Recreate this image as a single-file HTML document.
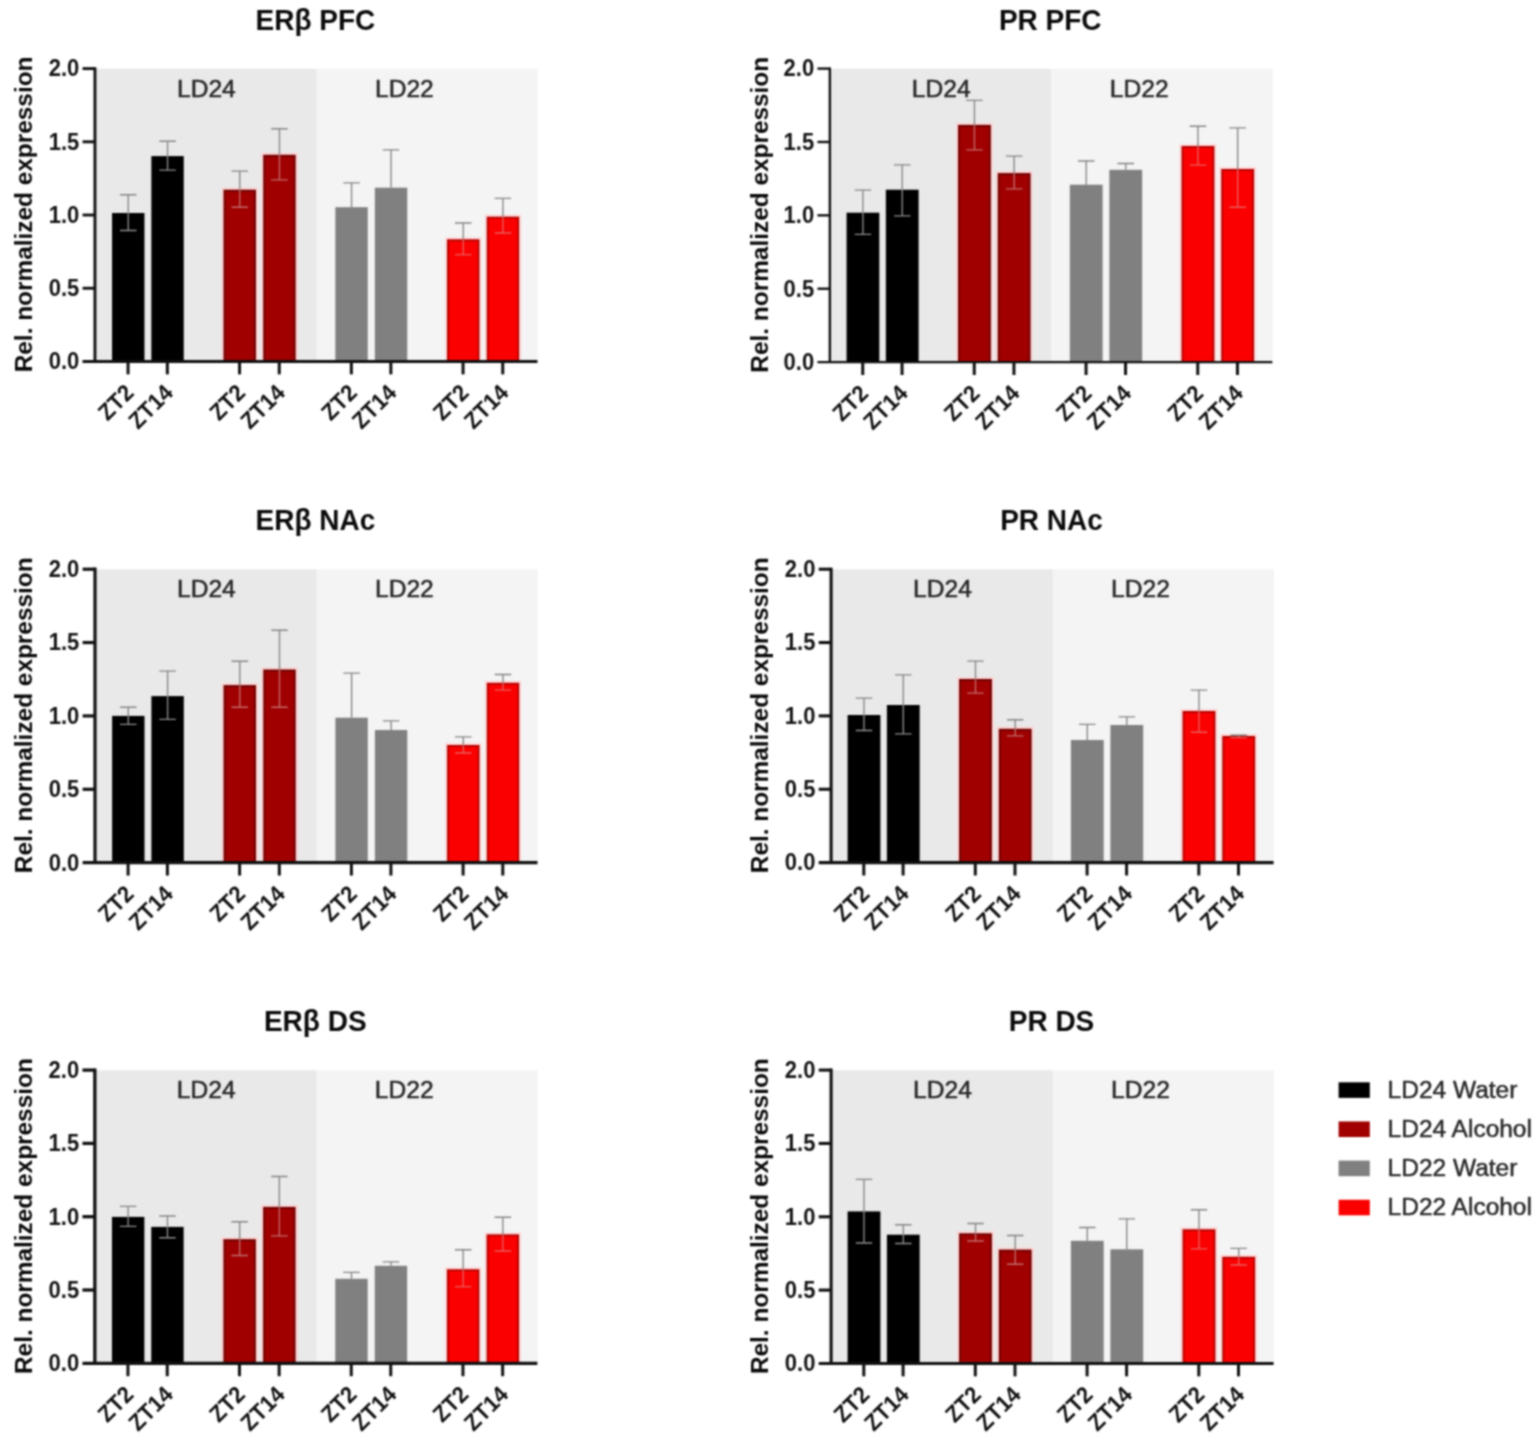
<!DOCTYPE html>
<html lang="en">
<head>
<meta charset="utf-8">
<title>Relative normalized expression of ERβ and PR</title>
<style>
html,body{margin:0;padding:0;background:#fff;}
body{width:1535px;height:1443px;overflow:hidden;}
svg{display:block;}
text{font-family:"Liberation Sans",Arial,Helvetica,sans-serif;}
.ttl{font-weight:bold;font-size:28px;fill:#0a0a0a;text-anchor:middle;}
.yl{font-weight:bold;font-size:24.4px;fill:#0a0a0a;text-anchor:middle;}
.tk{font-weight:bold;font-size:22px;fill:#141414;text-anchor:end;}
.xt{font-weight:bold;font-size:22px;fill:#101010;text-anchor:end;}
.ld{font-size:24.6px;fill:#262626;text-anchor:middle;stroke:#262626;stroke-width:0.5px;}
.lg{font-size:24.5px;fill:#2a2a2a;stroke:#2a2a2a;stroke-width:0.5px;}
.ax{stroke:#111111;fill:none;}
.er{stroke-width:1.35;fill:none;}
</style>
</head>
<body>
<svg width="1535" height="1443" viewBox="0 0 1535 1443" role="img" aria-label="Relative normalized expression of ERβ and PR in PFC, NAc and DS">
<defs><filter id="soft" x="0" y="0" width="100%" height="100%" color-interpolation-filters="sRGB"><feConvolveMatrix order="5" kernelMatrix="1 8 14 8 1 8 64 112 64 8 14 112 196 112 14 8 64 112 64 8 1 8 14 8 1" divisor="1024" edgeMode="duplicate" preserveAlpha="false"/></filter></defs>
<g filter="url(#soft)">
<rect x="-5" y="-5" width="1545" height="1453" fill="#ffffff"/>
<g>
<rect x="94.95" y="68.7" width="221.8" height="292.75" fill="#e9e9e9"/>
<rect x="316.75" y="68.7" width="221.1" height="292.75" fill="#f4f4f4"/>
<text class="ttl" transform="translate(315.35 29.7) scale(1 1.055)" x="0" y="0">ERβ PFC</text>
<text class="ld" transform="translate(206.35 96.5) scale(1 0.975)" x="0" y="0">LD24</text>
<text class="ld" transform="translate(404.35 96.5) scale(1 0.975)" x="0" y="0">LD22</text>
<rect x="112.05" y="213" width="32.4" height="148.45" fill="#000000"/>
<rect x="151.35" y="156.1" width="32.4" height="205.35" fill="#000000"/>
<rect x="221.55" y="187.7" width="36.4" height="173.75" fill="#ffd2d2"/>
<rect x="223.55" y="189.7" width="32.4" height="171.75" fill="#6c0000"/>
<rect x="225.45" y="191.6" width="28.6" height="169.85" fill="#a00000"/>
<rect x="261.25" y="152.8" width="36.4" height="208.65" fill="#ffd2d2"/>
<rect x="263.25" y="154.8" width="32.4" height="206.65" fill="#6c0000"/>
<rect x="265.15" y="156.7" width="28.6" height="204.75" fill="#a00000"/>
<rect x="335.35" y="207.2" width="32.4" height="154.25" fill="#808080"/>
<rect x="374.85" y="187.7" width="32.4" height="173.75" fill="#808080"/>
<rect x="445.05" y="237.3" width="36.4" height="124.15" fill="#ffd6d6"/>
<rect x="447.05" y="239.3" width="32.4" height="122.15" fill="#b40000"/>
<rect x="448.95" y="241.2" width="28.6" height="120.25" fill="#fb0000"/>
<rect x="484.75" y="214.7" width="36.4" height="146.75" fill="#ffd6d6"/>
<rect x="486.75" y="216.7" width="32.4" height="144.75" fill="#b40000"/>
<rect x="488.65" y="218.6" width="28.6" height="142.85" fill="#fb0000"/>
<path class="er" stroke="#858585" d="M128.25 194.7V213M120 194.7H136.5"/>
<path class="er" stroke="#8c8c8c" d="M128.25 213V230.5M120 230.5H136.5"/>
<path class="er" stroke="#858585" d="M167.55 141.2V156.1M159.3 141.2H175.8"/>
<path class="er" stroke="#8c8c8c" d="M167.55 156.1V170.1M159.3 170.1H175.8"/>
<path class="er" stroke="#858585" d="M239.75 171.1V189.7M231.5 171.1H248"/>
<path class="er" stroke="#c36b6b" d="M239.75 189.7V207.2M231.5 207.2H248"/>
<path class="er" stroke="#858585" d="M279.45 128.7V154.8M271.2 128.7H287.7"/>
<path class="er" stroke="#c36b6b" d="M279.45 154.8V179.8M271.2 179.8H287.7"/>
<path class="er" stroke="#858585" d="M351.55 182.8V207.2M343.3 182.8H359.8"/>
<path class="er" stroke="#858585" d="M391.05 149.8V187.7M382.8 149.8H399.3"/>
<path class="er" stroke="#858585" d="M463.25 223V239.3M455 223H471.5"/>
<path class="er" stroke="#ea5c5c" d="M463.25 239.3V254.6M455 254.6H471.5"/>
<path class="er" stroke="#858585" d="M502.95 198.4V216.7M494.7 198.4H511.2"/>
<path class="er" stroke="#ea5c5c" d="M502.95 216.7V233M494.7 233H511.2"/>
<path class="ax" stroke-width="2.9" d="M94.95 67.15V361.45M82.55 361.45H537.45"/>
<text class="tk" transform="translate(79.25 361.45) scale(1 1.05)" x="0" y="7.5">0.0</text>
<path class="ax" stroke-width="2.9" d="M82.55 288.24H94.95"/>
<text class="tk" transform="translate(79.25 288.24) scale(1 1.05)" x="0" y="7.5">0.5</text>
<path class="ax" stroke-width="2.9" d="M82.55 215.02H94.95"/>
<text class="tk" transform="translate(79.25 215.02) scale(1 1.05)" x="0" y="7.5">1.0</text>
<path class="ax" stroke-width="2.9" d="M82.55 141.81H94.95"/>
<text class="tk" transform="translate(79.25 141.81) scale(1 1.05)" x="0" y="7.5">1.5</text>
<path class="ax" stroke-width="2.9" d="M82.55 68.6H94.95"/>
<text class="tk" transform="translate(79.25 68.6) scale(1 1.05)" x="0" y="7.5">2.0</text>
<path class="ax" stroke-width="3" d="M128.05 361.45V374.35"/>
<text class="xt" transform="translate(129.35 388.35) rotate(-45) scale(1 1.05)" x="0" y="7.7">ZT2</text>
<path class="ax" stroke-width="3" d="M167.35 361.45V374.35"/>
<text class="xt" transform="translate(168.65 388.35) rotate(-45) scale(1 1.05)" x="0" y="7.7">ZT14</text>
<path class="ax" stroke-width="3" d="M239.55 361.45V374.35"/>
<text class="xt" transform="translate(240.85 388.35) rotate(-45) scale(1 1.05)" x="0" y="7.7">ZT2</text>
<path class="ax" stroke-width="3" d="M279.25 361.45V374.35"/>
<text class="xt" transform="translate(280.55 388.35) rotate(-45) scale(1 1.05)" x="0" y="7.7">ZT14</text>
<path class="ax" stroke-width="3" d="M351.35 361.45V374.35"/>
<text class="xt" transform="translate(352.65 388.35) rotate(-45) scale(1 1.05)" x="0" y="7.7">ZT2</text>
<path class="ax" stroke-width="3" d="M390.85 361.45V374.35"/>
<text class="xt" transform="translate(392.15 388.35) rotate(-45) scale(1 1.05)" x="0" y="7.7">ZT14</text>
<path class="ax" stroke-width="3" d="M463.05 361.45V374.35"/>
<text class="xt" transform="translate(464.35 388.35) rotate(-45) scale(1 1.05)" x="0" y="7.7">ZT2</text>
<path class="ax" stroke-width="3" d="M502.75 361.45V374.35"/>
<text class="xt" transform="translate(504.05 388.35) rotate(-45) scale(1 1.05)" x="0" y="7.7">ZT14</text>
<text class="yl" transform="translate(31.55 214.42) rotate(-90)" x="0" y="0">Rel. normalized expression</text>
</g>
<g>
<rect x="829.85" y="68.7" width="221.8" height="293.4" fill="#e9e9e9"/>
<rect x="1051.65" y="68.7" width="221.1" height="293.4" fill="#f4f4f4"/>
<text class="ttl" transform="translate(1050.25 29.7) scale(1 1.055)" x="0" y="0">PR PFC</text>
<text class="ld" transform="translate(941.25 96.5) scale(1 0.975)" x="0" y="0">LD24</text>
<text class="ld" transform="translate(1139.25 96.5) scale(1 0.975)" x="0" y="0">LD22</text>
<rect x="846.55" y="212.7" width="32.8" height="149.4" fill="#000000"/>
<rect x="885.85" y="189.7" width="32.8" height="172.4" fill="#000000"/>
<rect x="956.05" y="122.9" width="36.8" height="239.2" fill="#ffd2d2"/>
<rect x="958.05" y="124.9" width="32.8" height="237.2" fill="#6c0000"/>
<rect x="959.95" y="126.8" width="29" height="235.3" fill="#a00000"/>
<rect x="995.75" y="171.1" width="36.8" height="191" fill="#ffd2d2"/>
<rect x="997.75" y="173.1" width="32.8" height="189" fill="#6c0000"/>
<rect x="999.65" y="175" width="29" height="187.1" fill="#a00000"/>
<rect x="1069.85" y="184.7" width="32.8" height="177.4" fill="#808080"/>
<rect x="1109.35" y="169.8" width="32.8" height="192.3" fill="#808080"/>
<rect x="1179.55" y="144" width="36.8" height="218.1" fill="#ffd6d6"/>
<rect x="1181.55" y="146" width="32.8" height="216.1" fill="#b40000"/>
<rect x="1183.45" y="147.9" width="29" height="214.2" fill="#fb0000"/>
<rect x="1219.25" y="167" width="36.8" height="195.1" fill="#ffd6d6"/>
<rect x="1221.25" y="169" width="32.8" height="193.1" fill="#b40000"/>
<rect x="1223.15" y="170.9" width="29" height="191.2" fill="#fb0000"/>
<path class="er" stroke="#858585" d="M862.95 190.1V212.7M854.7 190.1H871.2"/>
<path class="er" stroke="#8c8c8c" d="M862.95 212.7V234.3M854.7 234.3H871.2"/>
<path class="er" stroke="#858585" d="M902.25 164.8V189.7M894 164.8H910.5"/>
<path class="er" stroke="#8c8c8c" d="M902.25 189.7V215.8M894 215.8H910.5"/>
<path class="er" stroke="#858585" d="M974.45 100.4V124.9M966.2 100.4H982.7"/>
<path class="er" stroke="#c36b6b" d="M974.45 124.9V149.8M966.2 149.8H982.7"/>
<path class="er" stroke="#858585" d="M1014.15 156.1V173.1M1005.9 156.1H1022.4"/>
<path class="er" stroke="#c36b6b" d="M1014.15 173.1V188.9M1005.9 188.9H1022.4"/>
<path class="er" stroke="#858585" d="M1086.25 161V184.7M1078 161H1094.5"/>
<path class="er" stroke="#858585" d="M1125.75 163.5V169.8M1117.5 163.5H1134"/>
<path class="er" stroke="#858585" d="M1197.95 126.2V146M1189.7 126.2H1206.2"/>
<path class="er" stroke="#ea5c5c" d="M1197.95 146V165.1M1189.7 165.1H1206.2"/>
<path class="er" stroke="#858585" d="M1237.65 127.9V169M1229.4 127.9H1245.9"/>
<path class="er" stroke="#ea5c5c" d="M1237.65 169V207.2M1229.4 207.2H1245.9"/>
<path class="ax" stroke-width="2.4" d="M829.85 67.4V362.1M817.45 362.1H1272.35"/>
<text class="tk" transform="translate(814.15 362.1) scale(1 1.05)" x="0" y="7.5">0.0</text>
<path class="ax" stroke-width="2.4" d="M817.45 288.73H829.85"/>
<text class="tk" transform="translate(814.15 288.73) scale(1 1.05)" x="0" y="7.5">0.5</text>
<path class="ax" stroke-width="2.4" d="M817.45 215.35H829.85"/>
<text class="tk" transform="translate(814.15 215.35) scale(1 1.05)" x="0" y="7.5">1.0</text>
<path class="ax" stroke-width="2.4" d="M817.45 141.98H829.85"/>
<text class="tk" transform="translate(814.15 141.98) scale(1 1.05)" x="0" y="7.5">1.5</text>
<path class="ax" stroke-width="2.4" d="M817.45 68.6H829.85"/>
<text class="tk" transform="translate(814.15 68.6) scale(1 1.05)" x="0" y="7.5">2.0</text>
<path class="ax" stroke-width="3" d="M862.75 362.1V375"/>
<text class="xt" transform="translate(864.05 389) rotate(-45) scale(1 1.05)" x="0" y="7.7">ZT2</text>
<path class="ax" stroke-width="3" d="M902.05 362.1V375"/>
<text class="xt" transform="translate(903.35 389) rotate(-45) scale(1 1.05)" x="0" y="7.7">ZT14</text>
<path class="ax" stroke-width="3" d="M974.25 362.1V375"/>
<text class="xt" transform="translate(975.55 389) rotate(-45) scale(1 1.05)" x="0" y="7.7">ZT2</text>
<path class="ax" stroke-width="3" d="M1013.95 362.1V375"/>
<text class="xt" transform="translate(1015.25 389) rotate(-45) scale(1 1.05)" x="0" y="7.7">ZT14</text>
<path class="ax" stroke-width="3" d="M1086.05 362.1V375"/>
<text class="xt" transform="translate(1087.35 389) rotate(-45) scale(1 1.05)" x="0" y="7.7">ZT2</text>
<path class="ax" stroke-width="3" d="M1125.55 362.1V375"/>
<text class="xt" transform="translate(1126.85 389) rotate(-45) scale(1 1.05)" x="0" y="7.7">ZT14</text>
<path class="ax" stroke-width="3" d="M1197.75 362.1V375"/>
<text class="xt" transform="translate(1199.05 389) rotate(-45) scale(1 1.05)" x="0" y="7.7">ZT2</text>
<path class="ax" stroke-width="3" d="M1237.45 362.1V375"/>
<text class="xt" transform="translate(1238.75 389) rotate(-45) scale(1 1.05)" x="0" y="7.7">ZT14</text>
<text class="yl" transform="translate(767.75 214.75) rotate(-90)" x="0" y="0">Rel. normalized expression</text>
</g>
<g>
<rect x="95" y="569.3" width="221.8" height="293.35" fill="#e9e9e9"/>
<rect x="316.8" y="569.3" width="221.1" height="293.35" fill="#f4f4f4"/>
<text class="ttl" transform="translate(315.4 530.3) scale(1 1.055)" x="0" y="0">ERβ NAc</text>
<text class="ld" transform="translate(206.4 597.1) scale(1 0.975)" x="0" y="0">LD24</text>
<text class="ld" transform="translate(404.4 597.1) scale(1 0.975)" x="0" y="0">LD22</text>
<rect x="112.1" y="715.9" width="32.4" height="146.75" fill="#000000"/>
<rect x="151.4" y="696.1" width="32.4" height="166.55" fill="#000000"/>
<rect x="221.6" y="683.1" width="36.4" height="179.55" fill="#ffd2d2"/>
<rect x="223.6" y="685.1" width="32.4" height="177.55" fill="#6c0000"/>
<rect x="225.5" y="687" width="28.6" height="175.65" fill="#a00000"/>
<rect x="261.3" y="667.5" width="36.4" height="195.15" fill="#ffd2d2"/>
<rect x="263.3" y="669.5" width="32.4" height="193.15" fill="#6c0000"/>
<rect x="265.2" y="671.4" width="28.6" height="191.25" fill="#a00000"/>
<rect x="335.4" y="717.7" width="32.4" height="144.95" fill="#808080"/>
<rect x="374.9" y="730" width="32.4" height="132.65" fill="#808080"/>
<rect x="445.1" y="743" width="36.4" height="119.65" fill="#ffd6d6"/>
<rect x="447.1" y="745" width="32.4" height="117.65" fill="#b40000"/>
<rect x="449" y="746.9" width="28.6" height="115.75" fill="#fb0000"/>
<rect x="484.8" y="680.8" width="36.4" height="181.85" fill="#ffd6d6"/>
<rect x="486.8" y="682.8" width="32.4" height="179.85" fill="#b40000"/>
<rect x="488.7" y="684.7" width="28.6" height="177.95" fill="#fb0000"/>
<path class="er" stroke="#858585" d="M128.3 707.2V715.9M120.05 707.2H136.55"/>
<path class="er" stroke="#8c8c8c" d="M128.3 715.9V724.4M120.05 724.4H136.55"/>
<path class="er" stroke="#858585" d="M167.6 671.1V696.1M159.35 671.1H175.85"/>
<path class="er" stroke="#8c8c8c" d="M167.6 696.1V719.4M159.35 719.4H175.85"/>
<path class="er" stroke="#858585" d="M239.8 661.2V685.1M231.55 661.2H248.05"/>
<path class="er" stroke="#c36b6b" d="M239.8 685.1V707.2M231.55 707.2H248.05"/>
<path class="er" stroke="#858585" d="M279.5 630.2V669.5M271.25 630.2H287.75"/>
<path class="er" stroke="#c36b6b" d="M279.5 669.5V707.2M271.25 707.2H287.75"/>
<path class="er" stroke="#858585" d="M351.6 673.1V717.7M343.35 673.1H359.85"/>
<path class="er" stroke="#858585" d="M391.1 720.9V730M382.85 720.9H399.35"/>
<path class="er" stroke="#858585" d="M463.3 736.9V745M455.05 736.9H471.55"/>
<path class="er" stroke="#ea5c5c" d="M463.3 745V753M455.05 753H471.55"/>
<path class="er" stroke="#858585" d="M503 674.5V682.8M494.75 674.5H511.25"/>
<path class="er" stroke="#ea5c5c" d="M503 682.8V690.1M494.75 690.1H511.25"/>
<path class="ax" stroke-width="3.2" d="M95 567.6V862.65M82.6 862.65H537.5"/>
<text class="tk" transform="translate(79.3 862.65) scale(1 1.05)" x="0" y="7.5">0.0</text>
<path class="ax" stroke-width="3.2" d="M82.6 789.29H95"/>
<text class="tk" transform="translate(79.3 789.29) scale(1 1.05)" x="0" y="7.5">0.5</text>
<path class="ax" stroke-width="3.2" d="M82.6 715.92H95"/>
<text class="tk" transform="translate(79.3 715.92) scale(1 1.05)" x="0" y="7.5">1.0</text>
<path class="ax" stroke-width="3.2" d="M82.6 642.56H95"/>
<text class="tk" transform="translate(79.3 642.56) scale(1 1.05)" x="0" y="7.5">1.5</text>
<path class="ax" stroke-width="3.2" d="M82.6 569.2H95"/>
<text class="tk" transform="translate(79.3 569.2) scale(1 1.05)" x="0" y="7.5">2.0</text>
<path class="ax" stroke-width="3" d="M128.1 862.65V875.55"/>
<text class="xt" transform="translate(129.4 889.55) rotate(-45) scale(1 1.05)" x="0" y="7.7">ZT2</text>
<path class="ax" stroke-width="3" d="M167.4 862.65V875.55"/>
<text class="xt" transform="translate(168.7 889.55) rotate(-45) scale(1 1.05)" x="0" y="7.7">ZT14</text>
<path class="ax" stroke-width="3" d="M239.6 862.65V875.55"/>
<text class="xt" transform="translate(240.9 889.55) rotate(-45) scale(1 1.05)" x="0" y="7.7">ZT2</text>
<path class="ax" stroke-width="3" d="M279.3 862.65V875.55"/>
<text class="xt" transform="translate(280.6 889.55) rotate(-45) scale(1 1.05)" x="0" y="7.7">ZT14</text>
<path class="ax" stroke-width="3" d="M351.4 862.65V875.55"/>
<text class="xt" transform="translate(352.7 889.55) rotate(-45) scale(1 1.05)" x="0" y="7.7">ZT2</text>
<path class="ax" stroke-width="3" d="M390.9 862.65V875.55"/>
<text class="xt" transform="translate(392.2 889.55) rotate(-45) scale(1 1.05)" x="0" y="7.7">ZT14</text>
<path class="ax" stroke-width="3" d="M463.1 862.65V875.55"/>
<text class="xt" transform="translate(464.4 889.55) rotate(-45) scale(1 1.05)" x="0" y="7.7">ZT2</text>
<path class="ax" stroke-width="3" d="M502.8 862.65V875.55"/>
<text class="xt" transform="translate(504.1 889.55) rotate(-45) scale(1 1.05)" x="0" y="7.7">ZT14</text>
<text class="yl" transform="translate(31.55 715.32) rotate(-90)" x="0" y="0">Rel. normalized expression</text>
</g>
<g>
<rect x="831.1" y="569.3" width="221.8" height="293.3" fill="#e9e9e9"/>
<rect x="1052.9" y="569.3" width="221.1" height="293.3" fill="#f4f4f4"/>
<text class="ttl" transform="translate(1051.5 530.3) scale(1 1.055)" x="0" y="0">PR NAc</text>
<text class="ld" transform="translate(942.5 597.1) scale(1 0.975)" x="0" y="0">LD24</text>
<text class="ld" transform="translate(1140.5 597.1) scale(1 0.975)" x="0" y="0">LD22</text>
<rect x="847.6" y="715" width="32.8" height="147.6" fill="#000000"/>
<rect x="886.9" y="705" width="32.8" height="157.6" fill="#000000"/>
<rect x="957.1" y="677" width="36.8" height="185.6" fill="#ffd2d2"/>
<rect x="959.1" y="679" width="32.8" height="183.6" fill="#6c0000"/>
<rect x="961" y="680.9" width="29" height="181.7" fill="#a00000"/>
<rect x="996.8" y="726.8" width="36.8" height="135.8" fill="#ffd2d2"/>
<rect x="998.8" y="728.8" width="32.8" height="133.8" fill="#6c0000"/>
<rect x="1000.7" y="730.7" width="29" height="131.9" fill="#a00000"/>
<rect x="1070.9" y="740" width="32.8" height="122.6" fill="#808080"/>
<rect x="1110.4" y="725" width="32.8" height="137.6" fill="#808080"/>
<rect x="1180.6" y="709" width="36.8" height="153.6" fill="#ffd6d6"/>
<rect x="1182.6" y="711" width="32.8" height="151.6" fill="#b40000"/>
<rect x="1184.5" y="712.9" width="29" height="149.7" fill="#fb0000"/>
<rect x="1220.3" y="734" width="36.8" height="128.6" fill="#ffd6d6"/>
<rect x="1222.3" y="736" width="32.8" height="126.6" fill="#b40000"/>
<rect x="1224.2" y="737.9" width="29" height="124.7" fill="#fb0000"/>
<path class="er" stroke="#858585" d="M864 698.1V715M855.75 698.1H872.25"/>
<path class="er" stroke="#8c8c8c" d="M864 715V730.5M855.75 730.5H872.25"/>
<path class="er" stroke="#858585" d="M903.3 674.8V705M895.05 674.8H911.55"/>
<path class="er" stroke="#8c8c8c" d="M903.3 705V733.8M895.05 733.8H911.55"/>
<path class="er" stroke="#858585" d="M975.5 661.1V679M967.25 661.1H983.75"/>
<path class="er" stroke="#c36b6b" d="M975.5 679V693.1M967.25 693.1H983.75"/>
<path class="er" stroke="#858585" d="M1015.2 719.7V728.8M1006.95 719.7H1023.45"/>
<path class="er" stroke="#c36b6b" d="M1015.2 728.8V735.8M1006.95 735.8H1023.45"/>
<path class="er" stroke="#858585" d="M1087.3 724.3V740M1079.05 724.3H1095.55"/>
<path class="er" stroke="#858585" d="M1126.8 716.9V725M1118.55 716.9H1135.05"/>
<path class="er" stroke="#858585" d="M1199 690.1V711M1190.75 690.1H1207.25"/>
<path class="er" stroke="#ea5c5c" d="M1199 711V732.2M1190.75 732.2H1207.25"/>
<path class="er" stroke="#858585" d="M1238.7 735.2V736M1230.45 735.2H1246.95"/>
<path class="er" stroke="#ea5c5c" d="M1238.7 736V737.6M1230.45 737.6H1246.95"/>
<path class="ax" stroke-width="3.1" d="M831.1 567.65V862.6M818.7 862.6H1273.6"/>
<text class="tk" transform="translate(815.4 862.6) scale(1 1.05)" x="0" y="7.5">0.0</text>
<path class="ax" stroke-width="3.1" d="M818.7 789.25H831.1"/>
<text class="tk" transform="translate(815.4 789.25) scale(1 1.05)" x="0" y="7.5">0.5</text>
<path class="ax" stroke-width="3.1" d="M818.7 715.9H831.1"/>
<text class="tk" transform="translate(815.4 715.9) scale(1 1.05)" x="0" y="7.5">1.0</text>
<path class="ax" stroke-width="3.1" d="M818.7 642.55H831.1"/>
<text class="tk" transform="translate(815.4 642.55) scale(1 1.05)" x="0" y="7.5">1.5</text>
<path class="ax" stroke-width="3.1" d="M818.7 569.2H831.1"/>
<text class="tk" transform="translate(815.4 569.2) scale(1 1.05)" x="0" y="7.5">2.0</text>
<path class="ax" stroke-width="3" d="M863.8 862.6V875.5"/>
<text class="xt" transform="translate(865.1 889.5) rotate(-45) scale(1 1.05)" x="0" y="7.7">ZT2</text>
<path class="ax" stroke-width="3" d="M903.1 862.6V875.5"/>
<text class="xt" transform="translate(904.4 889.5) rotate(-45) scale(1 1.05)" x="0" y="7.7">ZT14</text>
<path class="ax" stroke-width="3" d="M975.3 862.6V875.5"/>
<text class="xt" transform="translate(976.6 889.5) rotate(-45) scale(1 1.05)" x="0" y="7.7">ZT2</text>
<path class="ax" stroke-width="3" d="M1015 862.6V875.5"/>
<text class="xt" transform="translate(1016.3 889.5) rotate(-45) scale(1 1.05)" x="0" y="7.7">ZT14</text>
<path class="ax" stroke-width="3" d="M1087.1 862.6V875.5"/>
<text class="xt" transform="translate(1088.4 889.5) rotate(-45) scale(1 1.05)" x="0" y="7.7">ZT2</text>
<path class="ax" stroke-width="3" d="M1126.6 862.6V875.5"/>
<text class="xt" transform="translate(1127.9 889.5) rotate(-45) scale(1 1.05)" x="0" y="7.7">ZT14</text>
<path class="ax" stroke-width="3" d="M1198.8 862.6V875.5"/>
<text class="xt" transform="translate(1200.1 889.5) rotate(-45) scale(1 1.05)" x="0" y="7.7">ZT2</text>
<path class="ax" stroke-width="3" d="M1238.5 862.6V875.5"/>
<text class="xt" transform="translate(1239.8 889.5) rotate(-45) scale(1 1.05)" x="0" y="7.7">ZT14</text>
<text class="yl" transform="translate(767.75 715.3) rotate(-90)" x="0" y="0">Rel. normalized expression</text>
</g>
<g>
<rect x="94.85" y="1070.2" width="221.8" height="293.1" fill="#e9e9e9"/>
<rect x="316.65" y="1070.2" width="221.1" height="293.1" fill="#f4f4f4"/>
<text class="ttl" transform="translate(315.25 1031.2) scale(1 1.055)" x="0" y="0">ERβ DS</text>
<text class="ld" transform="translate(206.25 1098) scale(1 0.975)" x="0" y="0">LD24</text>
<text class="ld" transform="translate(404.25 1098) scale(1 0.975)" x="0" y="0">LD22</text>
<rect x="111.95" y="1216.9" width="32.4" height="146.4" fill="#000000"/>
<rect x="151.25" y="1226.9" width="32.4" height="136.4" fill="#000000"/>
<rect x="221.45" y="1237.2" width="36.4" height="126.1" fill="#ffd2d2"/>
<rect x="223.45" y="1239.2" width="32.4" height="124.1" fill="#6c0000"/>
<rect x="225.35" y="1241.1" width="28.6" height="122.2" fill="#a00000"/>
<rect x="261.15" y="1204.9" width="36.4" height="158.4" fill="#ffd2d2"/>
<rect x="263.15" y="1206.9" width="32.4" height="156.4" fill="#6c0000"/>
<rect x="265.05" y="1208.8" width="28.6" height="154.5" fill="#a00000"/>
<rect x="335.25" y="1278.8" width="32.4" height="84.5" fill="#808080"/>
<rect x="374.75" y="1265.8" width="32.4" height="97.5" fill="#808080"/>
<rect x="444.95" y="1267.3" width="36.4" height="96" fill="#ffd6d6"/>
<rect x="446.95" y="1269.3" width="32.4" height="94" fill="#b40000"/>
<rect x="448.85" y="1271.2" width="28.6" height="92.1" fill="#fb0000"/>
<rect x="484.65" y="1232.4" width="36.4" height="130.9" fill="#ffd6d6"/>
<rect x="486.65" y="1234.4" width="32.4" height="128.9" fill="#b40000"/>
<rect x="488.55" y="1236.3" width="28.6" height="127" fill="#fb0000"/>
<path class="er" stroke="#858585" d="M128.15 1206.4V1216.9M119.9 1206.4H136.4"/>
<path class="er" stroke="#8c8c8c" d="M128.15 1216.9V1226.4M119.9 1226.4H136.4"/>
<path class="er" stroke="#858585" d="M167.45 1216V1226.9M159.2 1216H175.7"/>
<path class="er" stroke="#8c8c8c" d="M167.45 1226.9V1237.7M159.2 1237.7H175.7"/>
<path class="er" stroke="#858585" d="M239.65 1221.7V1239.2M231.4 1221.7H247.9"/>
<path class="er" stroke="#c36b6b" d="M239.65 1239.2V1255.5M231.4 1255.5H247.9"/>
<path class="er" stroke="#858585" d="M279.35 1176.5V1206.9M271.1 1176.5H287.6"/>
<path class="er" stroke="#c36b6b" d="M279.35 1206.9V1235.9M271.1 1235.9H287.6"/>
<path class="er" stroke="#858585" d="M351.45 1272.4V1278.8M343.2 1272.4H359.7"/>
<path class="er" stroke="#858585" d="M390.95 1261.8V1265.8M382.7 1261.8H399.2"/>
<path class="er" stroke="#858585" d="M463.15 1249.7V1269.3M454.9 1249.7H471.4"/>
<path class="er" stroke="#ea5c5c" d="M463.15 1269.3V1286.6M454.9 1286.6H471.4"/>
<path class="er" stroke="#858585" d="M502.85 1217.2V1234.4M494.6 1217.2H511.1"/>
<path class="er" stroke="#ea5c5c" d="M502.85 1234.4V1251M494.6 1251H511.1"/>
<path class="ax" stroke-width="3.3" d="M94.85 1068.45V1363.3M82.45 1363.3H537.35"/>
<text class="tk" transform="translate(79.15 1363.3) scale(1 1.05)" x="0" y="7.5">0.0</text>
<path class="ax" stroke-width="3.3" d="M82.45 1290H94.85"/>
<text class="tk" transform="translate(79.15 1290) scale(1 1.05)" x="0" y="7.5">0.5</text>
<path class="ax" stroke-width="3.3" d="M82.45 1216.7H94.85"/>
<text class="tk" transform="translate(79.15 1216.7) scale(1 1.05)" x="0" y="7.5">1.0</text>
<path class="ax" stroke-width="3.3" d="M82.45 1143.4H94.85"/>
<text class="tk" transform="translate(79.15 1143.4) scale(1 1.05)" x="0" y="7.5">1.5</text>
<path class="ax" stroke-width="3.3" d="M82.45 1070.1H94.85"/>
<text class="tk" transform="translate(79.15 1070.1) scale(1 1.05)" x="0" y="7.5">2.0</text>
<path class="ax" stroke-width="3" d="M127.95 1363.3V1376.2"/>
<text class="xt" transform="translate(129.25 1390.2) rotate(-45) scale(1 1.05)" x="0" y="7.7">ZT2</text>
<path class="ax" stroke-width="3" d="M167.25 1363.3V1376.2"/>
<text class="xt" transform="translate(168.55 1390.2) rotate(-45) scale(1 1.05)" x="0" y="7.7">ZT14</text>
<path class="ax" stroke-width="3" d="M239.45 1363.3V1376.2"/>
<text class="xt" transform="translate(240.75 1390.2) rotate(-45) scale(1 1.05)" x="0" y="7.7">ZT2</text>
<path class="ax" stroke-width="3" d="M279.15 1363.3V1376.2"/>
<text class="xt" transform="translate(280.45 1390.2) rotate(-45) scale(1 1.05)" x="0" y="7.7">ZT14</text>
<path class="ax" stroke-width="3" d="M351.25 1363.3V1376.2"/>
<text class="xt" transform="translate(352.55 1390.2) rotate(-45) scale(1 1.05)" x="0" y="7.7">ZT2</text>
<path class="ax" stroke-width="3" d="M390.75 1363.3V1376.2"/>
<text class="xt" transform="translate(392.05 1390.2) rotate(-45) scale(1 1.05)" x="0" y="7.7">ZT14</text>
<path class="ax" stroke-width="3" d="M462.95 1363.3V1376.2"/>
<text class="xt" transform="translate(464.25 1390.2) rotate(-45) scale(1 1.05)" x="0" y="7.7">ZT2</text>
<path class="ax" stroke-width="3" d="M502.65 1363.3V1376.2"/>
<text class="xt" transform="translate(503.95 1390.2) rotate(-45) scale(1 1.05)" x="0" y="7.7">ZT14</text>
<text class="yl" transform="translate(31.55 1216.1) rotate(-90)" x="0" y="0">Rel. normalized expression</text>
</g>
<g>
<rect x="831.1" y="1070.2" width="221.8" height="293.25" fill="#e9e9e9"/>
<rect x="1052.9" y="1070.2" width="221.1" height="293.25" fill="#f4f4f4"/>
<text class="ttl" transform="translate(1051.5 1031.2) scale(1 1.055)" x="0" y="0">PR DS</text>
<text class="ld" transform="translate(942.5 1098) scale(1 0.975)" x="0" y="0">LD24</text>
<text class="ld" transform="translate(1140.5 1098) scale(1 0.975)" x="0" y="0">LD22</text>
<rect x="847.6" y="1211.4" width="32.8" height="152.05" fill="#000000"/>
<rect x="886.9" y="1234.7" width="32.8" height="128.75" fill="#000000"/>
<rect x="957.1" y="1231.3" width="36.8" height="132.15" fill="#ffd2d2"/>
<rect x="959.1" y="1233.3" width="32.8" height="130.15" fill="#6c0000"/>
<rect x="961" y="1235.2" width="29" height="128.25" fill="#a00000"/>
<rect x="996.8" y="1247.6" width="36.8" height="115.85" fill="#ffd2d2"/>
<rect x="998.8" y="1249.6" width="32.8" height="113.85" fill="#6c0000"/>
<rect x="1000.7" y="1251.5" width="29" height="111.95" fill="#a00000"/>
<rect x="1070.9" y="1240.8" width="32.8" height="122.65" fill="#808080"/>
<rect x="1110.4" y="1249.3" width="32.8" height="114.15" fill="#808080"/>
<rect x="1180.6" y="1227.3" width="36.8" height="136.15" fill="#ffd6d6"/>
<rect x="1182.6" y="1229.3" width="32.8" height="134.15" fill="#b40000"/>
<rect x="1184.5" y="1231.2" width="29" height="132.25" fill="#fb0000"/>
<rect x="1220.3" y="1254.8" width="36.8" height="108.65" fill="#ffd6d6"/>
<rect x="1222.3" y="1256.8" width="32.8" height="106.65" fill="#b40000"/>
<rect x="1224.2" y="1258.7" width="29" height="104.75" fill="#fb0000"/>
<path class="er" stroke="#858585" d="M864 1179.4V1211.4M855.75 1179.4H872.25"/>
<path class="er" stroke="#8c8c8c" d="M864 1211.4V1243M855.75 1243H872.25"/>
<path class="er" stroke="#858585" d="M903.3 1224.7V1234.7M895.05 1224.7H911.55"/>
<path class="er" stroke="#8c8c8c" d="M903.3 1234.7V1243.5M895.05 1243.5H911.55"/>
<path class="er" stroke="#858585" d="M975.5 1223.5V1233.3M967.25 1223.5H983.75"/>
<path class="er" stroke="#c36b6b" d="M975.5 1233.3V1241M967.25 1241H983.75"/>
<path class="er" stroke="#858585" d="M1015.2 1235.5V1249.6M1006.95 1235.5H1023.45"/>
<path class="er" stroke="#c36b6b" d="M1015.2 1249.6V1264.2M1006.95 1264.2H1023.45"/>
<path class="er" stroke="#858585" d="M1087.3 1227.5V1240.8M1079.05 1227.5H1095.55"/>
<path class="er" stroke="#858585" d="M1126.8 1218.8V1249.3M1118.55 1218.8H1135.05"/>
<path class="er" stroke="#858585" d="M1199 1209.7V1229.3M1190.75 1209.7H1207.25"/>
<path class="er" stroke="#ea5c5c" d="M1199 1229.3V1248.8M1190.75 1248.8H1207.25"/>
<path class="er" stroke="#858585" d="M1238.7 1248.3V1256.8M1230.45 1248.3H1246.95"/>
<path class="er" stroke="#ea5c5c" d="M1238.7 1256.8V1265M1230.45 1265H1246.95"/>
<path class="ax" stroke-width="3.1" d="M831.1 1068.55V1363.45M818.7 1363.45H1273.6"/>
<text class="tk" transform="translate(815.4 1363.45) scale(1 1.05)" x="0" y="7.5">0.0</text>
<path class="ax" stroke-width="3.1" d="M818.7 1290.11H831.1"/>
<text class="tk" transform="translate(815.4 1290.11) scale(1 1.05)" x="0" y="7.5">0.5</text>
<path class="ax" stroke-width="3.1" d="M818.7 1216.78H831.1"/>
<text class="tk" transform="translate(815.4 1216.78) scale(1 1.05)" x="0" y="7.5">1.0</text>
<path class="ax" stroke-width="3.1" d="M818.7 1143.44H831.1"/>
<text class="tk" transform="translate(815.4 1143.44) scale(1 1.05)" x="0" y="7.5">1.5</text>
<path class="ax" stroke-width="3.1" d="M818.7 1070.1H831.1"/>
<text class="tk" transform="translate(815.4 1070.1) scale(1 1.05)" x="0" y="7.5">2.0</text>
<path class="ax" stroke-width="3" d="M863.8 1363.45V1376.35"/>
<text class="xt" transform="translate(865.1 1390.35) rotate(-45) scale(1 1.05)" x="0" y="7.7">ZT2</text>
<path class="ax" stroke-width="3" d="M903.1 1363.45V1376.35"/>
<text class="xt" transform="translate(904.4 1390.35) rotate(-45) scale(1 1.05)" x="0" y="7.7">ZT14</text>
<path class="ax" stroke-width="3" d="M975.3 1363.45V1376.35"/>
<text class="xt" transform="translate(976.6 1390.35) rotate(-45) scale(1 1.05)" x="0" y="7.7">ZT2</text>
<path class="ax" stroke-width="3" d="M1015 1363.45V1376.35"/>
<text class="xt" transform="translate(1016.3 1390.35) rotate(-45) scale(1 1.05)" x="0" y="7.7">ZT14</text>
<path class="ax" stroke-width="3" d="M1087.1 1363.45V1376.35"/>
<text class="xt" transform="translate(1088.4 1390.35) rotate(-45) scale(1 1.05)" x="0" y="7.7">ZT2</text>
<path class="ax" stroke-width="3" d="M1126.6 1363.45V1376.35"/>
<text class="xt" transform="translate(1127.9 1390.35) rotate(-45) scale(1 1.05)" x="0" y="7.7">ZT14</text>
<path class="ax" stroke-width="3" d="M1198.8 1363.45V1376.35"/>
<text class="xt" transform="translate(1200.1 1390.35) rotate(-45) scale(1 1.05)" x="0" y="7.7">ZT2</text>
<path class="ax" stroke-width="3" d="M1238.5 1363.45V1376.35"/>
<text class="xt" transform="translate(1239.8 1390.35) rotate(-45) scale(1 1.05)" x="0" y="7.7">ZT14</text>
<text class="yl" transform="translate(767.75 1216.18) rotate(-90)" x="0" y="0">Rel. normalized expression</text>
</g>
<g>
<rect x="1338.6" y="1082.3" width="31.2" height="15.6" fill="#000000"/>
<text class="lg" transform="translate(1387.6 1097.6) scale(1 0.975)" x="0" y="0">LD24 Water</text>
<rect x="1338.6" y="1121.45" width="31.2" height="15.6" fill="#a00000"/>
<text class="lg" transform="translate(1387.6 1136.75) scale(1 0.975)" x="0" y="0">LD24 Alcohol</text>
<rect x="1338.6" y="1160.6" width="31.2" height="15.6" fill="#808080"/>
<text class="lg" transform="translate(1387.6 1175.9) scale(1 0.975)" x="0" y="0">LD22 Water</text>
<rect x="1338.6" y="1199.75" width="31.2" height="15.6" fill="#fb0000"/>
<text class="lg" transform="translate(1387.6 1215.05) scale(1 0.975)" x="0" y="0">LD22 Alcohol</text>
</g>
</g>
</svg>
</body>
</html>
